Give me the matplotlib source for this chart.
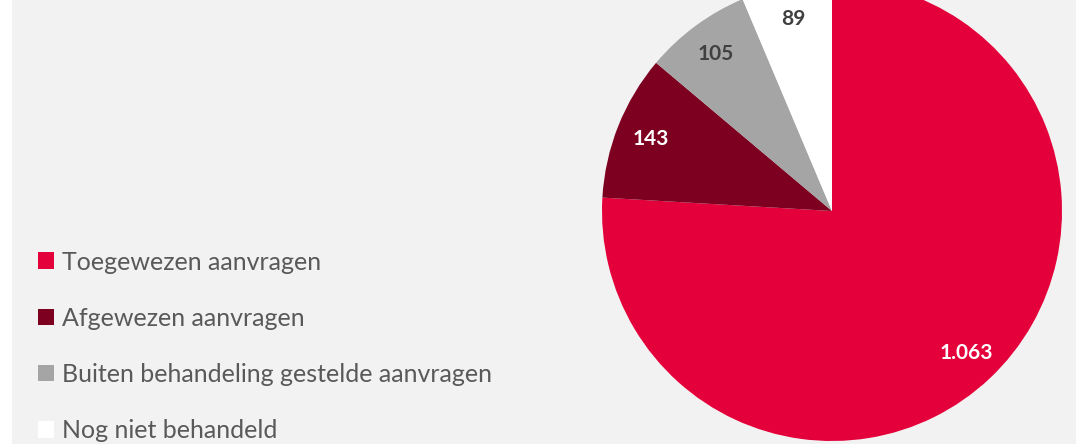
import matplotlib
matplotlib.use("Agg")
import numpy as np
import matplotlib.pyplot as plt
from matplotlib.patches import Patch, Rectangle

# Data
categories = ["Toegewezen aanvragen", "Afgewezen aanvragen",
              "Buiten behandeling gestelde aanvragen", "Nog niet behandeld"]
values = [1063, 143, 105, 89]
colors = ["#E4003A", "#7D0021", "#A5A5A5", "#FFFFFF"]
label_colors = ["white", "white", "#404040", "#404040"]

plt.rcParams["font.family"] = ["Lato", "DejaVu Sans"]

W, H = 1076, 444
fig = plt.figure(figsize=(W / 100, H / 100), dpi=100, facecolor="white")
fig.patches.append(Rectangle((12 / W, 0), 1 - 12 / W, 1, transform=fig.transFigure,
                             facecolor="#F2F2F2", edgecolor="none", zorder=-1))

cx, cy, r = 832, 211, 230
ax = fig.add_axes([(cx - r) / W, (H - cy - r) / H, 2 * r / W, 2 * r / H])
ax.set_facecolor("none")


def fmt(v):
    return f"{v:,}".replace(",", ".")


wedges, texts = ax.pie(values, colors=colors, startangle=90, counterclock=False,
                       radius=1, wedgeprops=dict(linewidth=0))
for w, v, c in zip(wedges, values, label_colors):
    ang = np.deg2rad((w.theta1 + w.theta2) / 2)
    ax.text(0.85 * np.cos(ang), 0.85 * np.sin(ang), fmt(v), ha="center", va="center",
            color=c, fontsize=15, fontweight="bold")
ax.set_xlim(-1, 1)
ax.set_ylim(-1, 1)
ax.axis("off")

handles = [Patch(facecolor=c, edgecolor="none") for c in colors]
leg = fig.legend(handles, categories, loc="upper left", bbox_to_anchor=(15 / W, 1 - 228 / H),
                 frameon=False, fontsize=18, labelcolor="#595959", handlelength=0.64,
                 handleheight=0.64, handletextpad=0.36, labelspacing=1.33)

fig.savefig("out.png", dpi=100, facecolor=fig.get_facecolor())
